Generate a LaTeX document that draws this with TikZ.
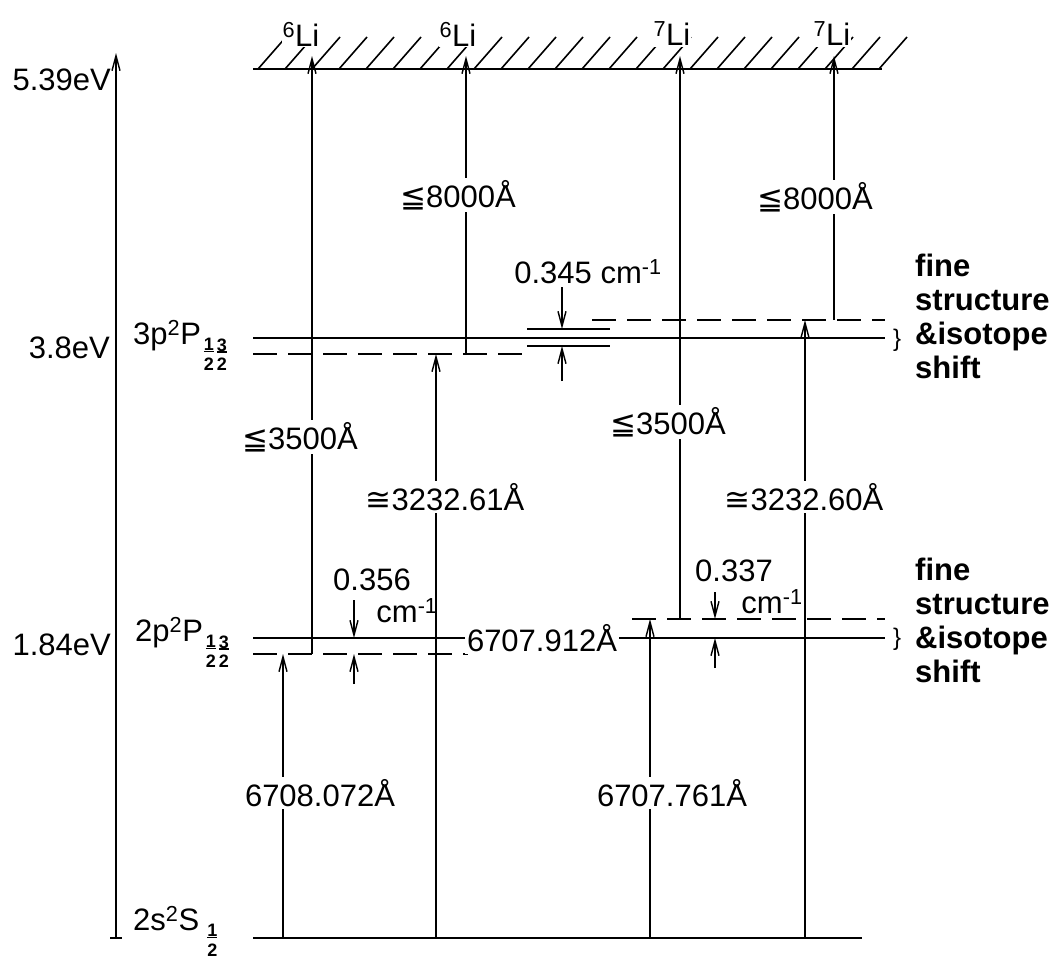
\documentclass[tikz,border=0pt]{standalone}
\usepackage{fontspec}
\setmainfont{Liberation Sans}
\newfontfamily\symf{DejaVu Sans}
\usetikzlibrary{arrows.meta}
\newcommand\fr[2]{\raisebox{-0.5em}{\fontsize{18}{18}\selectfont\bfseries\def\arraystretch{0.55}\begin{tabular}{@{\,}c@{}}#1\\[-3pt]\rule[0.3em]{0.55em}{1.4pt}\\[-3pt]#2\end{tabular}}}
\newcommand\myleq{{\symf ≦}}
\newcommand\mycong{{\symf ≅}}
\tikzset{
  lvl/.style={line width=2.4pt},
  lvld/.style={line width=2.2pt, dash pattern=on 24pt off 11pt},
  thin lvl/.style={line width=1.8pt},
  tr/.style={line width=1.6pt},
  up/.style={tr, -{Straight Barb[length=15pt,width=8pt,line width=1.4pt]}},
  hatch/.style={line width=1.6pt},
  lab/.style={fill=white, inner sep=2pt, font=\fontsize{31}{36}\selectfont},
  plab/.style={inner sep=0pt, font=\fontsize{31}{36}\selectfont},
  side/.style={align=left, font=\bfseries\fontsize{31}{34}\selectfont, inner sep=0pt, anchor=west},
  brace/.style={inner sep=0pt, font=\fontsize{24}{24}\selectfont}
}
\begin{document}
\begin{tikzpicture}[x=1pt,y=-1pt]
\useasboundingbox (0,0) rectangle (1062,959);
% ---- coordinates ----
\coordinate (ax0) at (116,938); \coordinate (ax1) at (116,53);
\coordinate (tk0) at (110,938); \coordinate (tk1) at (122,938);
\coordinate (top0) at (253,69); \coordinate (top1) at (882,69);
\coordinate (g0) at (253,938); \coordinate (g1) at (862,938);
\coordinate (p2a) at (253,638); \coordinate (p2b) at (885,638);
\coordinate (p2l0) at (253,654); \coordinate (p2l1) at (468,654);
\coordinate (p2r0) at (632,619); \coordinate (p2r1) at (885,619);
\coordinate (p3a) at (253,338); \coordinate (p3b) at (885,338);
\coordinate (p3l0) at (253,354); \coordinate (p3l1) at (533,354);
\coordinate (p3r0) at (592,320); \coordinate (p3r1) at (885,320);
\coordinate (s1a) at (527,329); \coordinate (s1b) at (610,329);
\coordinate (s2a) at (527,346); \coordinate (s2b) at (610,346);
% transitions
\coordinate (a1b) at (283,938); \coordinate (a1t) at (283,654);
\coordinate (b1b) at (312,654); \coordinate (b1t) at (312,56);
\coordinate (a2b) at (436,938); \coordinate (a2t) at (436,354);
\coordinate (b2b) at (466,354); \coordinate (b2t) at (466,56);
\coordinate (a3b) at (650,938); \coordinate (a3t) at (650,619);
\coordinate (b3b) at (680,619); \coordinate (b3t) at (680,56);
\coordinate (a4b) at (805,938); \coordinate (a4t) at (805,320);
\coordinate (b4b) at (834,320); \coordinate (b4t) at (834,56);
% markers
\coordinate (m1a) at (354,600); \coordinate (m1b) at (354,638);
\coordinate (m1c) at (354,684); \coordinate (m1d) at (354,654);
\coordinate (m2a) at (562,287); \coordinate (m2b) at (562,329);
\coordinate (m2c) at (562,381); \coordinate (m2d) at (562,346);
\coordinate (m3a) at (715,592); \coordinate (m3b) at (715,619);
\coordinate (m3c) at (715,668); \coordinate (m3d) at (715,638);

% ---- hatched limit ----
\begin{scope}
\clip (253,28) rectangle (910,69);
\foreach \k in {0,...,23} \draw[hatch] ({258+27*\k},69) -- ++(28,-32);
\end{scope}
\draw[lvl] (top0) -- (top1);

% ---- energy axis ----
\draw[up] (ax0) -- (ax1);
\draw[tr] (tk0) -- (tk1);

% ---- levels ----
\draw[lvl] (g0) -- (g1);
\draw[lvl] (p2a) -- (p2b);
\draw[lvld] (p2l0) -- (p2l1);
\draw[lvld] (p2r0) -- (p2r1);
\draw[lvl] (p3a) -- (p3b);
\draw[lvld] (p3l0) -- (p3l1);
\draw[lvld] (p3r0) -- (p3r1);
\draw[thin lvl] (s1a) -- (s1b);
\draw[thin lvl] (s2a) -- (s2b);

% ---- transitions ----
\draw[up] (a1b) -- (a1t);
\draw[up] (b1b) -- (b1t);
\draw[up] (a2b) -- (a2t);
\draw[up] (b2b) -- (b2t);
\draw[up] (a3b) -- (a3t);
\draw[up] (b3b) -- (b3t);
\draw[up] (a4b) -- (a4t);
\draw[up] (b4b) -- (b4t);

% ---- splitting markers ----
\draw[up] (m1a) -- (m1b); \draw[up] (m1c) -- (m1d);
\draw[up] (m2a) -- (m2b); \draw[up] (m2c) -- (m2d);
\draw[up] (m3a) -- (m3b); \draw[up] (m3c) -- (m3d);

% ---- isotope labels at top ----
\node[lab, inner sep=1pt] (li1) at (301,34) {\textsuperscript{6}Li};
\node[lab, inner sep=1pt] (li2) at (458,34) {\textsuperscript{6}Li};
\node[lab, inner sep=1pt] (li3) at (672,34) {\textsuperscript{7}Li};
\node[lab, inner sep=1pt] (li4) at (832,34) {\textsuperscript{7}Li};

% ---- energy labels ----
\node[plab, anchor=east] (e1) at (111,80) {5.39eV};
\node[plab, anchor=east] (e2) at (110,348) {3.8eV};
\node[plab, anchor=east] (e3) at (111,645) {1.84eV};
\node[plab, anchor=west] (t3) at (133,347) {3p\textsuperscript{2}P\fr12\fr32};
\node[plab, anchor=west] (t2) at (135,644) {2p\textsuperscript{2}P\fr12\fr32};
\node[plab, anchor=west] (t1) at (133,933) {2s\textsuperscript{2}S\,\fr12};

% ---- wavelength labels ----
\node[lab] (w1) at (458,195) {\myleq8000Å};
\node[lab] (w2) at (815,197) {\myleq8000Å};
\node[lab] (w3) at (300,437) {\myleq3500Å};
\node[lab] (w4) at (668,422) {\myleq3500Å};
\node[lab] (w5) at (445,497) {\mycong3232.61Å};
\node[lab] (w6) at (804,497) {\mycong3232.60Å};
\node[lab] (w7) at (320,793) {6708.072Å};
\node[lab] (w8) at (672,793) {6707.761Å};
\node[lab] (w9) at (542,638) {6707.912Å};

% ---- splitting labels ----
\node[plab] (d1) at (588,272) {0.345 cm\textsuperscript{-1}};
\node[plab] (d2) at (372,580) {0.356};
\node[plab] (d2u) at (407,611) {cm\textsuperscript{-1}};
\node[plab] (d3) at (734,571) {0.337};
\node[plab] (d3u) at (772,602) {cm\textsuperscript{-1}};

% ---- fine structure notes ----
\node[brace] (br1) at (897,340) {\}};
\node[brace] (br2) at (897,639) {\}};
\node[side] (f1) at (915,316) {fine\\structure\\\&isotope\\shift};
\node[side] (f2) at (915,620) {fine\\structure\\\&isotope\\shift};
\end{tikzpicture}
\end{document}
